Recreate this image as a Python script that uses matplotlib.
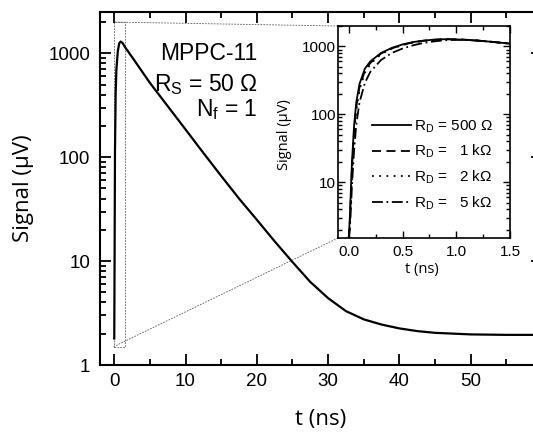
import matplotlib
matplotlib.use("Agg")
import matplotlib.pyplot as plt
import matplotlib.ticker as ticker
from mpl_toolkits.axes_grid1.inset_locator import mark_inset

plt.rcParams['font.family'] = ['Liberation Sans', 'DejaVu Sans']
plt.rcParams['mathtext.fontset'] = 'custom'
plt.rcParams['mathtext.rm'] = 'Liberation Sans'
plt.rcParams['mathtext.it'] = 'Liberation Sans:italic'

# --- data ---
t_main = [0.0, 0.05, 0.1, 0.2, 0.3, 0.5, 0.7, 0.9, 1.2, 1.5, 2.5, 5, 7.5, 10, 12.5,
          15, 17.5, 20, 22.5, 25, 27.5, 30, 32.5, 35, 37.5, 40, 42.5, 45, 50, 55, 60]
sig_main = [1.8, 12, 110, 420, 700, 1050, 1250, 1300, 1250, 1150, 920, 520, 310, 185, 110,
            66, 40, 25, 15.5, 9.8, 6.3, 4.4, 3.3, 2.75, 2.45, 2.25, 2.12, 2.04, 1.97, 1.95, 1.95]

t_in = [0.0, 0.01, 0.02, 0.03, 0.05, 0.07, 0.1, 0.15, 0.2, 0.3, 0.4, 0.5, 0.6, 0.7,
        0.8, 0.9, 1.0, 1.1, 1.2, 1.3, 1.4, 1.5]
sig_500 = [1.5, 3, 8, 20, 70, 150, 280, 470, 600, 800, 950, 1070, 1160, 1220,
           1260, 1280, 1270, 1250, 1220, 1180, 1140, 1100]
sig_1k = [1.5, 2.6, 6.5, 16, 58, 128, 250, 435, 570, 785, 935, 1055, 1150, 1215,
          1255, 1280, 1270, 1250, 1220, 1180, 1140, 1100]
sig_2k = [1.5, 2.4, 5.5, 13, 50, 112, 230, 410, 550, 770, 925, 1045, 1145, 1210,
          1255, 1280, 1270, 1250, 1220, 1180, 1140, 1100]
sig_5k = [1.5, 2, 4, 9, 30, 70, 150, 290, 420, 630, 800, 930, 1040, 1130,
          1190, 1235, 1250, 1240, 1215, 1180, 1140, 1100]

inset_labels = ['R$_\\mathrm{D}$ = 500 \u03a9', 'R$_\\mathrm{D}$ =   1 k\u03a9',
                'R$_\\mathrm{D}$ =   2 k\u03a9', 'R$_\\mathrm{D}$ =   5 k\u03a9']
inset_styles = ['-', (0, (5, 3)), (0, (1, 3)), (0, (6, 2, 1, 2))]

main_yticks = [1, 10, 100, 1000]
main_xticks = [0, 10, 20, 30, 40, 50, 60]
inset_xticks = [0.0, 0.5, 1.0, 1.5]
inset_yticks = [10, 100, 1000]

W, H = 533, 432
fig = plt.figure(figsize=(W / 100, H / 100), dpi=100)

# main axes (right part runs off the picture, as in the original)
ax = fig.add_axes([100 / W, 1 - 365 / H, 442 / W, 353 / H])
ax.plot(t_main, sig_main, color='black', lw=1.6)
ax.set_yscale('log')
ax.set_xlim(-2, 60)
ax.set_ylim(1, 2500)

ax.set_xticks(main_xticks)
# label at 60 falls past the picture's edge
ax.set_xticklabels([str(v) if v < 60 else '' for v in main_xticks])
ax.xaxis.set_minor_locator(ticker.MultipleLocator(5))
ax.set_yticks(main_yticks)
ax.set_yticklabels([str(v) for v in main_yticks])
ax.yaxis.set_minor_locator(ticker.LogLocator(base=10, subs=range(2, 10)))
ax.yaxis.set_minor_formatter(ticker.NullFormatter())
ax.tick_params(which='both', direction='in', top=True, right=True, width=1.3,
               labelsize=13.5)
ax.tick_params(which='major', length=8)
ax.tick_params(which='minor', length=4.5)
ax.tick_params(axis='y', pad=7)
ax.tick_params(axis='x', pad=6)
for s in ax.spines.values():
    s.set_linewidth(1.5)

ax.set_xlabel('t (ns)', fontsize=16, family='Open Sans')
ax.set_ylabel('Signal (\u03bcV)', fontsize=16, family='Open Sans')
ax.xaxis.set_label_coords(0.5, -0.125)
ax.yaxis.set_label_coords(-0.15, 0.5)

ax.text(0.357, 0.864, 'MPPC-11', transform=ax.transAxes, ha='right',
        va='baseline', fontsize=16.5)
ax.text(0.357, 0.776, 'R$_\\mathrm{S}$ = 50 \u03a9', transform=ax.transAxes,
        ha='right', va='baseline', fontsize=16.5)
ax.text(0.357, 0.706, 'N$_\\mathrm{f}$ = 1', transform=ax.transAxes,
        ha='right', va='baseline', fontsize=16.5)

# inset
axins = fig.add_axes([338 / W, 1 - 238 / H, 172 / W, 212 / H])
for y, lab, ls in zip([sig_500, sig_1k, sig_2k, sig_5k], inset_labels, inset_styles):
    axins.plot(t_in, y, color='black', lw=1.3, ls=ls, label=lab)
axins.set_yscale('log')
axins.set_xlim(-0.1, 1.5)
axins.set_ylim(1.5, 2000)
axins.set_xticks(inset_xticks)
axins.set_xticklabels(['%.1f' % v for v in inset_xticks])
axins.xaxis.set_minor_locator(ticker.MultipleLocator(0.25))
axins.set_yticks(inset_yticks)
axins.set_yticklabels([str(v) for v in inset_yticks])
axins.yaxis.set_minor_locator(ticker.LogLocator(base=10, subs=range(2, 10)))
axins.yaxis.set_minor_formatter(ticker.NullFormatter())
axins.tick_params(which='both', direction='in', top=True, right=True, width=1.0,
                  labelsize=11)
axins.tick_params(which='major', length=5)
axins.tick_params(which='minor', length=3)
axins.tick_params(axis='y', pad=1.5)
axins.tick_params(axis='x', pad=5)
for s in axins.spines.values():
    s.set_linewidth(1.2)
axins.set_xlabel('t (ns)', fontsize=10.5, family='Open Sans')
axins.set_ylabel('Signal (\u03bcV)', fontsize=10.5, family='Open Sans')
axins.xaxis.set_label_coords(0.49, -0.115)
axins.yaxis.set_label_coords(-0.27, 0.49)

axins.legend(loc='upper left', bbox_to_anchor=(0.2, 0.565), frameon=False,
             fontsize=11, handlelength=2.5, handletextpad=0.2, labelspacing=0.55,
             borderaxespad=0, borderpad=0)

mark_inset(ax, axins, loc1=2, loc2=3, fc='none', ec='0.35', lw=0.6,
           ls=(0, (2, 1.5)))

fig.savefig('out.png', dpi=100)
